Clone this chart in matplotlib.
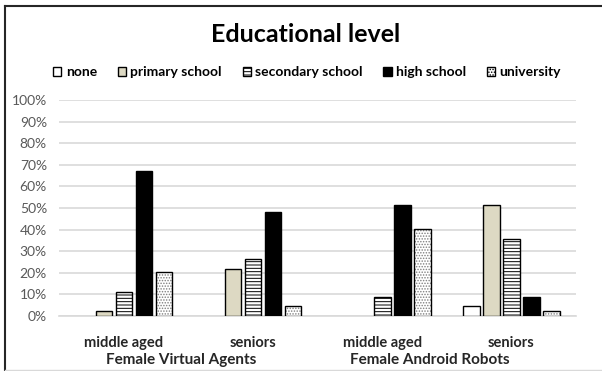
import numpy as np
import matplotlib.pyplot as plt
from matplotlib.lines import Line2D
from matplotlib.patches import Patch

plt.rcParams['font.family'] = ['Lato', 'DejaVu Sans']
plt.rcParams['hatch.linewidth'] = 0.7

categories = ["middle aged", "seniors", "middle aged", "seniors"]
groups = ["Female Virtual Agents", "Female Android Robots"]
levels = ["none", "primary school", "secondary school", "high school", "university"]

none = [0, 0, 0, 4.6]
primary = [2.3, 22, 0, 51.5]
secondary = [11, 26.5, 8.8, 35.8]
high = [67, 48, 51.5, 8.8]
university = [20.3, 4.5, 40.2, 2.3]

series = [none, primary, secondary, high, university]
faces = ["white", "#ddd9c3", "white", "black", "white"]
hatches = [None, None, "-----", None, "......"]
hatch_cols = ["black", "black", "black", "black", "#7f7f7f"]

fig = plt.figure(figsize=(6.02, 3.71), dpi=100)
ax = fig.add_axes([0.0988, 0.148, 0.858, 0.5825])

x = np.arange(len(categories))
pitch = 0.155
width = 0.128
for i, vals in enumerate(series):
    vals = np.array(vals, dtype=float)
    keep = vals > 0
    bars = ax.bar(x[keep] + (i - 2) * pitch, vals[keep], width,
                  color=faces[i], edgecolor="black", linewidth=1.0,
                  hatch=hatches[i], zorder=3)
    for b in bars:
        b._hatch_color = plt.matplotlib.colors.to_rgba(hatch_cols[i])

ax.set_xlim(-0.5, 3.5)
ax.set_ylim(0, 100)
ax.set_yticks(range(0, 101, 10))
ax.set_yticklabels([f"{v}%" for v in range(0, 101, 10)], color="#595959", fontsize=10)
ax.yaxis.grid(True, color="#d9d9d9", linewidth=1.2, zorder=0)
ax.tick_params(axis="y", length=0, pad=9)
ax.set_xticks(x)
ax.set_xticklabels(categories, fontsize=10.5, fontweight="bold", color="#262626")
ax.tick_params(axis="x", length=0, pad=14)
for s in ["top", "right", "left"]:
    ax.spines[s].set_visible(False)
ax.spines["bottom"].set_color("#d9d9d9")
ax.spines["bottom"].set_linewidth(1.2)

# group names under the category labels
ax.text(0.44, -0.205, groups[0], transform=ax.get_xaxis_transform(),
        ha="center", va="center", fontsize=11, fontweight="bold", color="#262626")
ax.text(2.37, -0.205, groups[1], transform=ax.get_xaxis_transform(),
        ha="center", va="center", fontsize=11, fontweight="bold", color="#262626")

fig.text(0.508, 0.908, "Educational level", ha="center", va="center",
         fontsize=18, fontweight="bold", color="black")

handles = [Patch(facecolor=faces[i], edgecolor="black", hatch=hatches[i], linewidth=1.0)
           for i in range(len(levels))]
fig.legend(handles, levels, loc="center", bbox_to_anchor=(0.51, 0.805), ncol=5,
           frameon=False, handlelength=0.6, handleheight=0.6, handletextpad=0.3,
           columnspacing=1.5, prop={"weight": "bold", "size": 10})

# frame around the chart
fig.add_artist(Line2D([0.0075, 1.0], [0.984, 0.984], color="#262626", linewidth=1.5))
fig.add_artist(Line2D([0.0075, 0.0075], [0.0, 0.984], color="#262626", linewidth=1.5))
fig.add_artist(Line2D([0.0075, 1.0], [0.004, 0.004], color="#d9d9d9", linewidth=1.0))

fig.savefig("out.png", dpi=100)
